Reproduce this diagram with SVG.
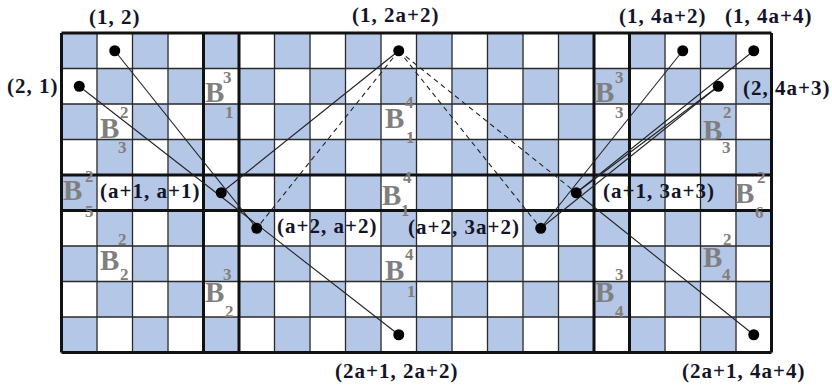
<svg xmlns="http://www.w3.org/2000/svg" width="832" height="388" viewBox="0 0 832 388">
<style>
.thin{stroke:#2a2a2a;stroke-width:1.3;fill:none}
.thick{stroke:#111;stroke-width:3;fill:none}
.edge{stroke:#222;stroke-width:1.1;fill:none}
.dash{stroke-dasharray:5 4}
.dot{fill:#000}
.lbl{font-family:"Liberation Serif","Times New Roman",serif;font-weight:bold;font-size:21px;letter-spacing:1px;fill:#141428}
.B{font-family:"Liberation Serif","Times New Roman",serif;font-weight:bold;font-size:29px;fill:#7f7f7f}
.n{font-family:"Liberation Serif","Times New Roman",serif;font-weight:bold;font-size:17px;fill:#857d78}
</style>
<defs>
<pattern id="chk" x="61.5" y="33" width="71" height="71" patternUnits="userSpaceOnUse">
<rect x="0" y="0" width="35.5" height="35.5" fill="#b4c7e7"/>
<rect x="35.5" y="35.5" width="35.5" height="35.5" fill="#b4c7e7"/>
</pattern>
</defs>
<rect width="832" height="388" fill="#fff"/>
<g id="board">
<rect x="61.5" y="33" width="710" height="319.5" fill="url(#chk)"/>
<path class="thin" d="M97,33V352.5M132.5,33V352.5M168,33V352.5M274.5,33V352.5M310,33V352.5M345.5,33V352.5M381,33V352.5M416.5,33V352.5M452,33V352.5M487.5,33V352.5M523,33V352.5M558.5,33V352.5M665,33V352.5M700.5,33V352.5M736,33V352.5M61.5,68.5H771.5M61.5,104H771.5M61.5,139.5H771.5M61.5,246H771.5M61.5,281.5H771.5M61.5,317H771.5"/>
<path class="thick" d="M61.5,33V352.5M203.5,33V352.5M239,33V352.5M594,33V352.5M629.5,33V352.5M771.5,33V352.5M61.5,33H771.5M61.5,175H771.5M61.5,210.5H771.5M61.5,352.5H771.5"/>
</g>
<g id="blocks">
<text class="B" x="100" y="138">B</text><text class="n" x="120" y="118">2</text><text class="n" x="118" y="153">3</text>
<text class="B" x="205" y="102">B</text><text class="n" x="223" y="83">3</text><text class="n" x="225" y="118">1</text>
<text class="B" x="63" y="200">B</text><text class="n" x="85" y="182">2</text><text class="n" x="85" y="217">5</text>
<text class="B" x="100" y="270">B</text><text class="n" x="118" y="245">2</text><text class="n" x="120" y="280">2</text>
<text class="B" x="205" y="302">B</text><text class="n" x="223" y="280">3</text><text class="n" x="225" y="317">2</text>
<text class="B" x="385" y="128">B</text><text class="n" x="405" y="108">4</text><text class="n" x="406" y="143">1</text>
<text class="B" x="382" y="205">B</text><text class="n" x="403" y="183">4</text><text class="n" x="401" y="216">1</text>
<text class="B" x="385" y="280">B</text><text class="n" x="405" y="260">4</text><text class="n" x="407" y="297">1</text>
<text class="B" x="595" y="102">B</text><text class="n" x="615" y="83">3</text><text class="n" x="615" y="118">3</text>
<text class="B" x="703" y="140">B</text><text class="n" x="723" y="118">2</text><text class="n" x="722" y="153">3</text>
<text class="B" x="735" y="203">B</text><text class="n" x="757" y="183">2</text><text class="n" x="755" y="218">6</text>
<text class="B" x="703" y="267">B</text><text class="n" x="723" y="245">2</text><text class="n" x="722" y="280">4</text>
<text class="B" x="595" y="302">B</text><text class="n" x="615" y="280">3</text><text class="n" x="615" y="317">4</text>
</g>
<g id="connectors">
<line class="edge" x1="114.75" y1="50.75" x2="256.75" y2="228.25"/>
<line class="edge" x1="79.25" y1="86.25" x2="398.75" y2="334.75"/>
<line class="edge" x1="398.75" y1="50.75" x2="221.25" y2="192.75"/>
<line class="edge dash" x1="398.75" y1="50.75" x2="256.75" y2="228.25"/>
<line class="edge dash" x1="398.75" y1="50.75" x2="540.75" y2="228.25"/>
<line class="edge dash" x1="398.75" y1="50.75" x2="576.25" y2="192.75"/>
<line class="edge" x1="576.25" y1="192.75" x2="753.75" y2="334.75"/>
<line class="edge" x1="682.75" y1="50.75" x2="540.75" y2="228.25"/>
<line class="edge" x1="753.75" y1="50.75" x2="576.25" y2="192.75"/>
<line class="edge" x1="718.25" y1="86.25" x2="576.25" y2="192.75"/>
<line class="edge" x1="718.25" y1="86.25" x2="540.75" y2="228.25"/>
</g>
<g id="n-1-2"><circle class="dot" cx="114.75" cy="50.75" r="5.5"/><text class="lbl" x="89" y="24">(1, 2)</text></g>
<g id="n-2-1"><circle class="dot" cx="79.25" cy="86.25" r="5.5"/><text class="lbl" x="7" y="93">(2, 1)</text></g>
<g id="n-1-2a2"><circle class="dot" cx="398.75" cy="50.75" r="5.5"/><text class="lbl" x="352" y="22">(1, 2a+2)</text></g>
<g id="n-1-4a2"><circle class="dot" cx="682.75" cy="50.75" r="5.5"/><text class="lbl" x="619" y="23">(1, 4a+2)</text></g>
<g id="n-1-4a4"><circle class="dot" cx="753.75" cy="50.75" r="5.5"/><text class="lbl" x="725" y="23">(1, 4a+4)</text></g>
<g id="n-2-4a3"><circle class="dot" cx="718.25" cy="86.25" r="5.5"/><text class="lbl" x="743" y="95">(2, 4a+3)</text></g>
<g id="n-a1-a1"><circle class="dot" cx="221.25" cy="192.75" r="5.5"/><text class="lbl" x="100" y="198">(a+1, a+1)</text></g>
<g id="n-a2-a2"><circle class="dot" cx="256.75" cy="228.25" r="5.5"/><text class="lbl" x="277" y="233">(a+2, a+2)</text></g>
<g id="n-a2-3a2"><circle class="dot" cx="540.75" cy="228.25" r="5.5"/><text class="lbl" x="408" y="234">(a+2, 3a+2)</text></g>
<g id="n-a1-3a3"><circle class="dot" cx="576.25" cy="192.75" r="5.5"/><text class="lbl" x="603" y="198">(a+1, 3a+3)</text></g>
<g id="n-2a1-2a2"><circle class="dot" cx="398.75" cy="334.75" r="5.5"/><text class="lbl" x="335" y="378">(2a+1, 2a+2)</text></g>
<g id="n-2a1-4a4"><circle class="dot" cx="753.75" cy="334.75" r="5.5"/><text class="lbl" x="682" y="378">(2a+1, 4a+4)</text></g>
</svg>
